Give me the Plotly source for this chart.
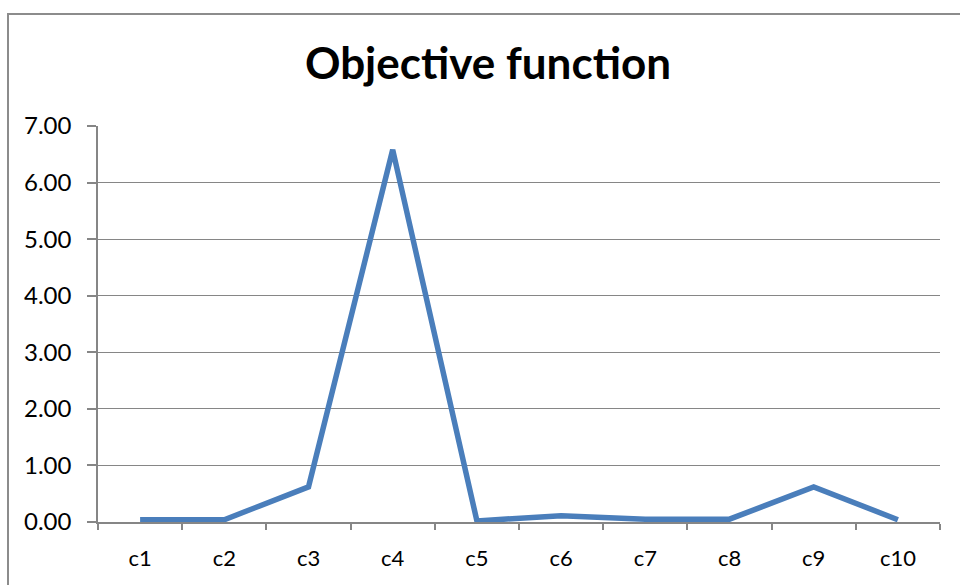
import plotly.graph_objects as go

categories = ["c1", "c2", "c3", "c4", "c5", "c6", "c7", "c8", "c9", "c10"]
values = [0.04, 0.04, 0.62, 6.58, 0.02, 0.11, 0.05, 0.05, 0.62, 0.04]
y_ticks = [0, 1, 2, 3, 4, 5, 6, 7]
y_tick_labels = ["%.2f" % v for v in y_ticks]

W, H = 960, 585
L, R, T, B = 98, 20, 126, 63
pw, ph = W - L - R, H - T - B

fig = go.Figure()
fig.add_trace(go.Scatter(
    x=categories, y=values, mode="lines",
    line=dict(color="#4A7EBB", width=5.5),
    showlegend=False, hoverinfo="x+y",
))

grid = "#868686"
font = "Lato, Open Sans, sans-serif"

fig.update_layout(
    width=W, height=H,
    margin=dict(l=L, r=R, t=T, b=B),
    paper_bgcolor="white", plot_bgcolor="white",
    title=dict(text="<b>Objective function</b>", x=(488 - L) / pw, xref="paper",
               xanchor="center", y=1 - 64 / H, yanchor="middle",
               font=dict(family=font, size=44, color="black")),
    xaxis=dict(
        type="category", range=[-0.5, 9.5], tickson="boundaries",
        ticks="outside", ticklen=6, tickcolor=grid, tickwidth=1.5,
        showline=True, linecolor=grid, linewidth=1.5, showgrid=False,
        tickfont=dict(family=font, size=22, color="black"),
        ticklabelstandoff=16,
    ),
    yaxis=dict(
        range=[0, 7], tickvals=y_ticks, ticktext=y_tick_labels,
        ticks="outside", ticklen=9, tickcolor=grid, tickwidth=1.5,
        showline=True, linecolor=grid, linewidth=1.5,
        showgrid=True, gridcolor=grid, gridwidth=1.2, zeroline=False,
        tickfont=dict(family=font, size=24, color="black"),
        ticklabelstandoff=11,
    ),
    shapes=[dict(
        type="rect", xref="paper", yref="paper",
        x0=(8 - L) / pw, x1=(W + 10 - L) / pw,
        y0=-(B + 10) / ph, y1=1 + (T - 14) / ph,
        line=dict(color="#8C8C8C", width=2), layer="below",
    )],
)

fig.write_html("out.html", config={"displayModeBar": False},
               post_script="document.body.style.margin='0';document.body.style.overflow='hidden';")
